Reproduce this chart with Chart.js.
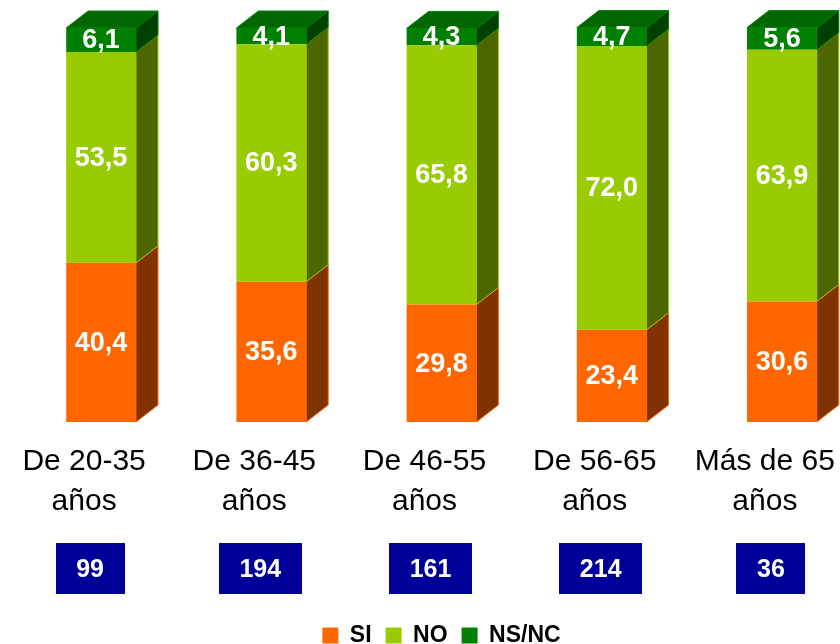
<!DOCTYPE html>
<html>
<head>
<meta charset="utf-8">
<title>Encuesta por edad</title>
<script src="https://cdn.jsdelivr.net/npm/chart.js@4/dist/chart.umd.min.js"></script>
<style>
  html,body{margin:0;padding:0;background:#fff;overflow:hidden;}
  #wrap{width:880px;height:644px;}
</style>
</head>
<body>
<div id="wrap"><canvas id="chart" width="880" height="644"></canvas></div>
<script>
// ===================== DATOS =====================
const categorias = [
  ['De 20-35','años'],
  ['De 36-45','años'],
  ['De 46-55','años'],
  ['De 56-65','años'],
  ['Más de 65','años']
];
const serieSI   = [40.4, 35.6, 29.8, 23.4, 30.6];
const serieNO   = [53.5, 60.3, 65.8, 72.0, 63.9];
const serieNSNC = [6.1, 4.1, 4.3, 4.7, 5.6];
const totalesN  = [99, 194, 161, 214, 36];

// frente / lateral / tapa de cada serie
const COLORES = {
  si:   {front:'#FF6600', side:'#803300', top:'#B34700'},
  no:   {front:'#99CC00', side:'#4D6600', top:'#739900'},
  nsnc: {front:'#008000', side:'#004000', top:'#006600'}
};
const PROF_X = 22, PROF_Y = 17;   // profundidad del efecto 3D
const FONT = '"Liberation Sans", Arial, sans-serif';
const fmtDec = v => v.toFixed(1).replace('.', ',');

// ── caras laterales y tapa de las columnas ──
const cubo3D = {
  id:'cubo3D',
  beforeDatasetsDraw(chart){
    const ctx = chart.ctx;
    const n = chart.data.datasets.length;
    chart.data.datasets.forEach((ds,di)=>{
      const meta = chart.getDatasetMeta(di);
      meta.data.forEach(bar=>{
        const r = bar.x + bar.width/2, l = bar.x - bar.width/2;
        ctx.save();
        ctx.lineWidth = 1;
        ctx.strokeStyle = ds.cara.front;
        // lateral
        ctx.beginPath();
        ctx.moveTo(r, bar.y);
        ctx.lineTo(r+PROF_X, bar.y-PROF_Y);
        ctx.lineTo(r+PROF_X, bar.base-PROF_Y);
        ctx.lineTo(r, bar.base);
        ctx.closePath();
        ctx.fillStyle = ds.cara.side;
        ctx.fill(); ctx.stroke();
        // tapa solo en el último tramo
        if(di===n-1){
          ctx.beginPath();
          ctx.moveTo(l, bar.y);
          ctx.lineTo(l+PROF_X, bar.y-PROF_Y);
          ctx.lineTo(r+PROF_X, bar.y-PROF_Y);
          ctx.lineTo(r, bar.y);
          ctx.closePath();
          ctx.fillStyle = ds.cara.top;
          ctx.fill(); ctx.stroke();
        }
        ctx.restore();
      });
    });
  }
};

// ── porcentajes dentro de cada tramo ──
const etiquetas = {
  id:'etiquetas',
  afterDatasetsDraw(chart){
    const ctx = chart.ctx;
    ctx.save();
    ctx.font = 'bold 27px '+FONT;
    ctx.fillStyle = '#fff';
    ctx.textAlign = 'center';
    ctx.textBaseline = 'middle';
    chart.data.datasets.forEach((ds,di)=>{
      chart.getDatasetMeta(di).data.forEach((bar,i)=>{
        ctx.fillText(fmtDec(ds.data[i]), bar.x, (bar.y+bar.base)/2 + 1);
      });
    });
    ctx.restore();
  }
};

// ── cajas con el número de casos bajo cada grupo ──
const cajasN = {
  id:'cajasN',
  afterDraw(chart){
    const ctx = chart.ctx, x = chart.scales.x;
    ctx.save();
    ctx.font = 'bold 25px '+FONT;
    ctx.textAlign = 'center';
    ctx.textBaseline = 'middle';
    totalesN.forEach((n,i)=>{
      const cx = x.getPixelForTick(i) - 11;
      const w = ctx.measureText(String(n)).width + 41;
      ctx.fillStyle = '#000099';
      ctx.fillRect(Math.round(cx - w/2), 543, Math.round(w), 51);
      ctx.fillStyle = '#fff';
      ctx.fillText(String(n), cx, 570);
    });
    ctx.restore();
  }
};

const mkSerie = (label, data, cara) => ({
  label, data, cara,
  backgroundColor: cara.front,
  borderWidth: 0,
  barPercentage: 0.41,
  categoryPercentage: 1
});

new Chart(document.getElementById('chart').getContext('2d'), {
  type:'bar',
  data:{
    labels: categorias,
    datasets:[
      mkSerie('SI', serieSI, COLORES.si),
      mkSerie('NO', serieNO, COLORES.no),
      mkSerie('NS/NC', serieNSNC, COLORES.nsnc)
    ]
  },
  options:{
    responsive:false,
    animation:false,
    clip:false,
    layout:{padding:{top:28, left:16, right:13, bottom:-13}},
    plugins:{
      tooltip:{enabled:false},
      legend:{
        position:'bottom',
        labels:{boxWidth:16, boxHeight:16, padding:14, color:'#000',
                font:{family:FONT, size:23, weight:'bold'}}
      }
    },
    scales:{
      x:{
        stacked:true,
        grid:{display:false, drawTicks:false},
        border:{display:false},
        ticks:{color:'#000', padding:20, labelOffset:-17, maxRotation:0, autoSkip:false,
               font:{family:FONT, size:30, lineHeight:1.33}},
        afterFit: s => { s.height = 188; }
      },
      y:{stacked:true, display:false, min:0, max:100}
    }
  },
  plugins:[cubo3D, etiquetas, cajasN]
});
</script>
</body>
</html>
